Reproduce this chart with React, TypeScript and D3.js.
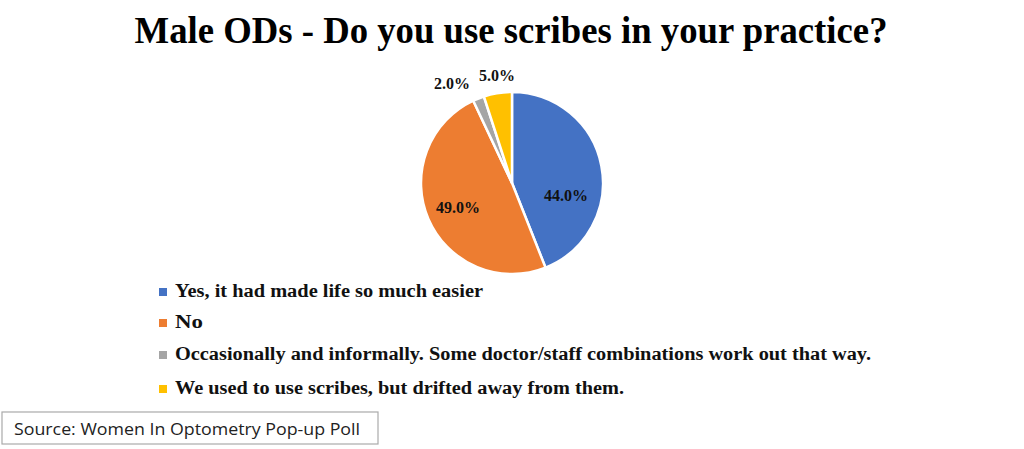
import React from "react";
import * as d3 from "d3";

const categories = [
  "Yes, it had made life so much easier",
  "No",
  "Occasionally and informally. Some doctor/staff combinations work out that way.",
  "We used to use scribes, but drifted away from them.",
];
const values = [44, 49, 2, 5];
const labels = ["44.0%", "49.0%", "2.0%", "5.0%"];
const colors = ["#4472C4", "#ED7D31", "#A5A5A5", "#FFC000"];
const legendWidths = [308, 28, 696, 449];

export default function App() {
  const W = 1024, H = 449;
  const cx = 512, cy = 183, r = 91;
  const pie = d3.pie<number>().sort(null).value((d) => d);
  const arcs = pie(values);
  const arc = d3.arc<d3.PieArcDatum<number>>().innerRadius(0).outerRadius(r);
  const labelPos: [number, number][] = [
    [566, 197],
    [458, 209],
    [452, 85],
    [497, 77],
  ];
  const legendY = [293, 324, 356, 390];
  return (
    <svg width={W} height={H} style={{ position: "absolute", left: 0, top: 0, background: "#fff" }}>
      <rect x={0} y={0} width={W} height={H} fill="#fff" />
      <text
        x={511}
        y={43}
        textAnchor="middle"
        fontFamily="Liberation Serif"
        fontWeight="bold"
        fontSize={38}
        textLength={753}
        lengthAdjust="spacingAndGlyphs"
      >
        Male ODs - Do you use scribes in your practice?
      </text>
      <g transform={`translate(${cx},${cy})`}>
        {arcs.map((a, i) => (
          <path key={i} d={arc(a) || ""} fill={colors[i]} stroke="#fff" strokeWidth={2.5} />
        ))}
      </g>
      {labels.map((l, i) => (
        <text
          key={i}
          x={labelPos[i][0]}
          y={labelPos[i][1]}
          textAnchor="middle"
          dominantBaseline="middle"
          fontFamily="Liberation Serif"
          fontWeight="bold"
          fontSize={16}
          fill="#111"
        >
          {l}
        </text>
      ))}
      {categories.map((c, i) => (
        <g key={i}>
          <rect x={159} y={legendY[i] - 5} width={8} height={8} fill={colors[i]} />
          <text
            x={175}
            y={legendY[i]}
            dominantBaseline="middle"
            fontFamily="Liberation Serif"
            fontWeight="bold"
            fontSize={18}
            fill="#111"
            textLength={legendWidths[i]}
            lengthAdjust="spacingAndGlyphs"
          >
            {c}
          </text>
        </g>
      ))}
      <rect x={2} y={412} width={376} height={32} fill="#fff" stroke="#aaa" strokeWidth={1.2} />
      <text x={14} y={435} fontFamily="Open Sans" fontSize={16} fill="#222" textLength={346} lengthAdjust="spacingAndGlyphs">
        Source: Women In Optometry Pop-up Poll
      </text>
    </svg>
  );
}
